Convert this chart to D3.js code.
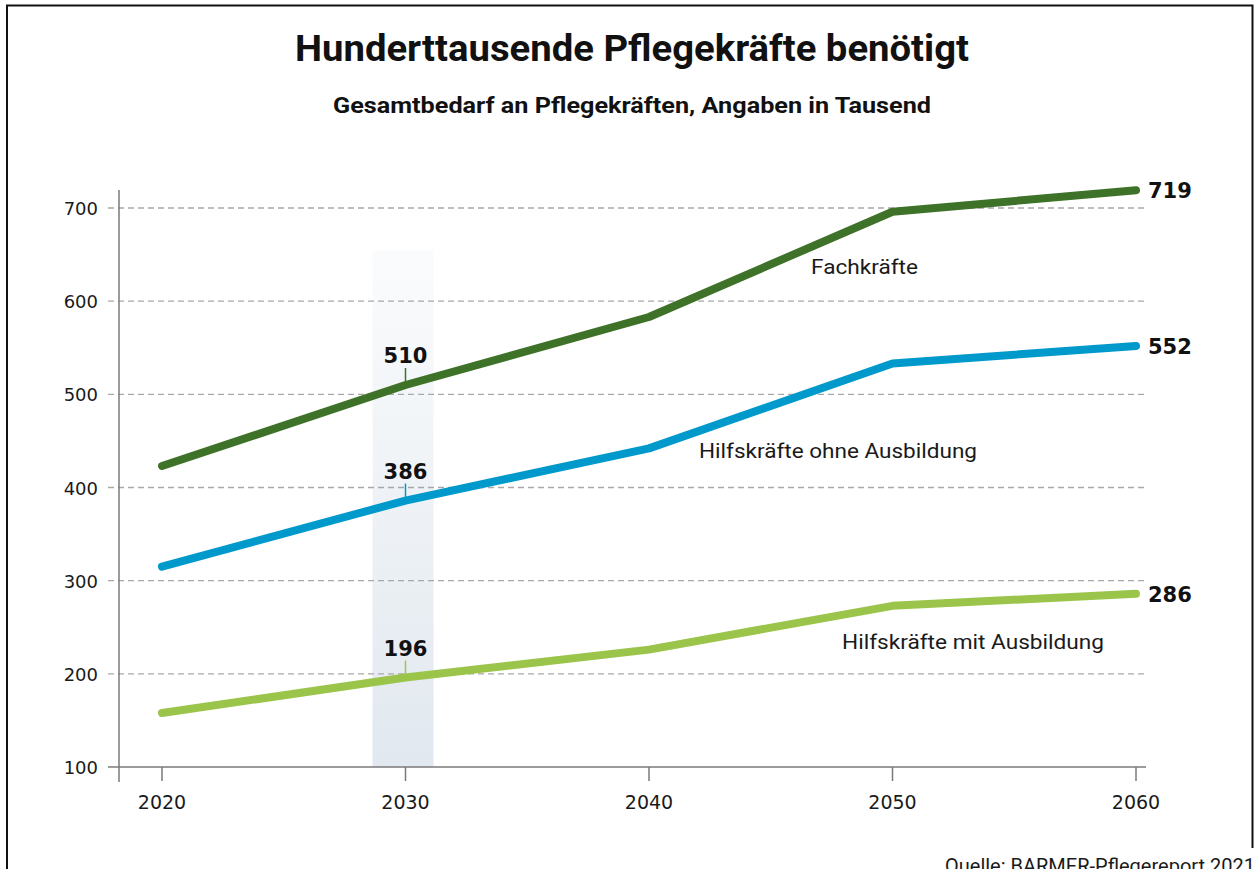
<!DOCTYPE html>
<html lang="de">
<head>
<meta charset="UTF-8">
<title>Pflegekräfte</title>
<style>
  body { margin: 0; background: #fff; }
  svg { display: block; }
</style>
</head>
<body>
<svg width="1255" height="869"></svg>
<script src="https://cdnjs.cloudflare.com/ajax/libs/d3/7.8.5/d3.min.js"></script>
<script>
// Daten (in Tausend)
var years = [2020, 2030, 2040, 2050, 2060];
var fachkraefte = [423, 510, 583, 696, 719];
var hilfsOhne = [315, 386, 442, 533, 552];
var hilfsMit = [158, 196, 226, 273, 286];
var yTicks = [100, 200, 300, 400, 500, 600, 700];
var highlightYear = 2030;

var series = [
  {name: "Fachkräfte", values: fachkraefte, color: "#3e7228", lx: 811, ly: 274, lw: 107},
  {name: "Hilfskräfte ohne Ausbildung", values: hilfsOhne, color: "#0099cc", lx: 699, ly: 458, lw: 278},
  {name: "Hilfskräfte mit Ausbildung", values: hilfsMit, color: "#9bc54a", lx: 842, ly: 649, lw: 262}
];

var svg = d3.select("svg");
var font = "Roboto, 'Noto Sans', sans-serif";
var numFont = "'DejaVu Sans', sans-serif";

var x = d3.scaleLinear().domain([2020, 2060]).range([162, 1136]);
var y = d3.scaleLinear().domain([100, 700]).range([767, 208]);

// Rahmen
svg.append("path")
  .attr("d", "M7,869 V5.5 H1252.5 V848")
  .attr("fill", "none")
  .attr("stroke", "#111")
  .attr("stroke-width", 2);

// Titel
svg.append("text")
  .attr("x", 632).attr("y", 61)
  .attr("text-anchor", "middle")
  .attr("font-family", font)
  .attr("font-weight", "bold")
  .attr("font-size", 37)
  .attr("textLength", 674)
  .attr("lengthAdjust", "spacingAndGlyphs")
  .attr("fill", "#111")
  .text("Hunderttausende Pflegekräfte benötigt");

svg.append("text")
  .attr("x", 632).attr("y", 113)
  .attr("text-anchor", "middle")
  .attr("font-family", font)
  .attr("font-weight", "bold")
  .attr("font-size", 22)
  .attr("textLength", 598)
  .attr("lengthAdjust", "spacingAndGlyphs")
  .attr("fill", "#111")
  .text("Gesamtbedarf an Pflegekräften, Angaben in Tausend");

// Hervorhebung 2030
var grad = svg.append("defs").append("linearGradient")
  .attr("id", "band").attr("x1", 0).attr("y1", 0).attr("x2", 0).attr("y2", 1);
grad.append("stop").attr("offset", "0%").attr("stop-color", "#e1e8ef").attr("stop-opacity", 0.15);
grad.append("stop").attr("offset", "100%").attr("stop-color", "#e1e8ef").attr("stop-opacity", 1);

svg.append("rect")
  .attr("x", x(highlightYear) - 33)
  .attr("width", 61)
  .attr("y", y(655))
  .attr("height", y(100) - y(655))
  .attr("fill", "url(#band)");

// Gitterlinien
svg.append("g")
  .selectAll("line")
  .data(yTicks.slice(1))
  .enter()
  .append("line")
  .attr("x1", 108).attr("x2", 1147)
  .attr("y1", function(d){ return y(d); })
  .attr("y2", function(d){ return y(d); })
  .attr("stroke", "#a8a8a8")
  .attr("stroke-width", 1.3)
  .attr("stroke-dasharray", "6,4");

// Achsen
var axisColor = "#7a7a7a";
svg.append("line")
  .attr("x1", 119).attr("x2", 119).attr("y1", 190).attr("y2", 782)
  .attr("stroke", axisColor).attr("stroke-width", 1.5);
svg.append("line")
  .attr("x1", 108).attr("x2", 1146).attr("y1", y(100)).attr("y2", y(100))
  .attr("stroke", axisColor).attr("stroke-width", 1.5);

svg.append("g")
  .selectAll("line")
  .data(years)
  .enter()
  .append("line")
  .attr("x1", function(d){ return x(d); })
  .attr("x2", function(d){ return x(d); })
  .attr("y1", y(100)).attr("y2", y(100) + 14)
  .attr("stroke", axisColor).attr("stroke-width", 1.5);

svg.append("g")
  .selectAll("text")
  .data(yTicks)
  .enter()
  .append("text")
  .attr("x", 98)
  .attr("y", function(d){ return y(d) + 7; })
  .attr("text-anchor", "end")
  .attr("font-family", numFont)
  .attr("font-size", 18)
  .attr("fill", "#1a1a1a")
  .text(function(d){ return d; });

svg.append("g")
  .selectAll("text")
  .data(years)
  .enter()
  .append("text")
  .attr("x", function(d){ return x(d); })
  .attr("y", 809)
  .attr("text-anchor", "middle")
  .attr("font-family", numFont)
  .attr("font-size", 19)
  .attr("fill", "#1a1a1a")
  .text(function(d){ return d; });

// Linien
var line = d3.line()
  .x(function(d, i){ return x(years[i]); })
  .y(function(d){ return y(d); });

var hi = years.indexOf(highlightYear);

series.forEach(function(s){
  svg.append("path")
    .datum(s.values)
    .attr("d", line)
    .attr("fill", "none")
    .attr("stroke", s.color)
    .attr("stroke-width", 8)
    .attr("stroke-linecap", "round")
    .attr("stroke-linejoin", "round");

  // Wert 2030 mit Strich
  var v = s.values[hi];
  svg.append("line")
    .attr("x1", x(highlightYear)).attr("x2", x(highlightYear))
    .attr("y1", y(v) - 17).attr("y2", y(v))
    .attr("stroke", s.color).attr("stroke-width", 1.5);
  svg.append("text")
    .attr("x", x(highlightYear))
    .attr("y", y(v) - 22)
    .attr("text-anchor", "middle")
    .attr("font-family", numFont)
    .attr("font-weight", "bold")
    .attr("font-size", 21)
    .attr("fill", "#111")
    .text(v);

  // Endwert
  var last = s.values[s.values.length - 1];
  svg.append("text")
    .attr("x", x(years[years.length - 1]) + 12)
    .attr("y", y(last) + 8)
    .attr("font-family", numFont)
    .attr("font-weight", "bold")
    .attr("font-size", 21)
    .attr("fill", "#111")
    .text(last);

  // Reihenname
  svg.append("text")
    .attr("x", s.lx).attr("y", s.ly)
    .attr("font-family", font)
    .attr("font-size", 20)
    .attr("textLength", s.lw)
    .attr("lengthAdjust", "spacingAndGlyphs")
    .attr("fill", "#1a1a1a")
    .text(s.name);
});

// Quelle (im Original am unteren Rand angeschnitten)
svg.append("text")
  .attr("x", 945).attr("y", 873)
  .attr("font-family", font)
  .attr("font-size", 20)
  .attr("fill", "#1a1a1a")
  .text("Quelle: BARMER-Pflegereport 2021");
</script>
</body>
</html>
